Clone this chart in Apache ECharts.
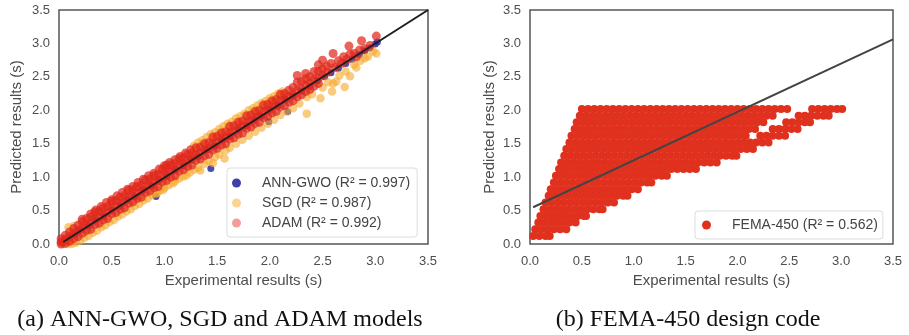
<!DOCTYPE html>
<html>
<head>
<meta charset="utf-8">
<script src="https://cdn.jsdelivr.net/npm/echarts@6/dist/echarts.min.js"></script>
<style>
  html, body { margin: 0; padding: 0; background: #fff; }
  #chart { width: 909px; height: 335px; }
</style>
</head>
<body>
<div id="chart"></div>
<script>
// tick labels shared by both panels
const axisTicks = ['0.0', '0.5', '1.0', '1.5', '2.0', '2.5', '3.0', '3.5'];

const seriesNames = ['ANN-GWO (R² = 0.997)', 'SGD (R² = 0.987)', 'ADAM (R² = 0.992)'];
const femaName = 'FEMA-450 (R² = 0.562)';
const captions = ['(a) ANN-GWO, SGD and ADAM models', '(b) FEMA-450 design code'];

// panel (a): experimental vs predicted
const gwoPoints = [
  [0.05,0.06],[0.1,0.11],[0.15,0.14],[0.2,0.21],[0.28,0.27],[0.35,0.36],[0.42,0.41],[0.5,0.51],
  [0.58,0.57],[0.65,0.66],[0.72,0.71],[0.8,0.81],[0.88,0.87],[0.92,0.71],[0.95,0.96],[1.02,1.01],
  [1.1,1.11],[1.18,1.17],[1.25,1.26],[1.32,1.31],[1.4,1.41],[1.44,1.13],[1.48,1.47],[1.55,1.56],
  [1.62,1.61],[1.7,1.71],[1.78,1.77],[1.85,1.86],[1.92,1.91],[1.99,1.83],[2.0,2.01],[2.08,2.07],
  [2.17,1.98],[2.15,2.16],[2.22,2.21],[2.3,2.29],[2.38,2.36],[2.45,2.44],[2.52,2.5],[2.58,2.56],
  [2.65,2.63],[2.72,2.7],[2.78,2.76],[2.85,2.83],[2.9,2.89],[2.95,2.93],[3.0,2.99],[3.02,3.02]
];
const sgdPoints = [
  [0.04,0.0],[0.08,0.0],[0.09,0.25],[0.12,0.0],[0.14,0.27],[0.16,0.02],[0.2,0.05],[0.24,0.09],
  [0.28,0.12],[0.32,0.17],[0.36,0.2],[0.4,0.25],[0.44,0.28],[0.48,0.33],[0.52,0.36],[0.56,0.41],
  [0.6,0.44],[0.64,0.49],[0.68,0.52],[0.72,0.57],[0.76,0.6],[0.8,0.65],[0.84,0.68],[0.88,0.73],
  [0.92,0.76],[0.93,0.76],[0.96,0.8],[0.99,0.81],[1.0,0.84],[1.04,0.88],[1.08,0.91],[1.1,0.94],
  [1.14,0.98],[1.18,1.01],[1.21,1.03],[1.24,1.07],[1.28,1.11],[1.32,1.14],[1.34,1.1],[1.38,1.2],
  [1.42,1.24],[1.46,1.21],[1.48,1.3],[1.52,1.34],[1.57,1.28],[1.58,1.4],[1.62,1.44],[1.68,1.5],
  [1.74,1.56],[1.8,1.62],[1.86,1.68],[1.92,1.74],[1.98,1.8],[2.04,1.86],[2.1,1.93],[2.16,1.98],
  [2.22,2.03],[2.28,2.1],[2.35,1.95],[2.35,2.2],[2.4,2.24],[2.48,2.18],[2.5,2.34],[2.55,2.42],
  [2.59,2.28],[2.6,2.4],[2.63,2.43],[2.66,2.52],[2.71,2.35],[2.72,2.58],[2.76,2.51],[2.8,2.68],
  [2.82,2.64],[2.86,2.74],[2.9,2.78],[2.93,2.8],[2.98,2.88],[3.01,2.85],
  [1.28,1.47],[1.32,1.52],[1.36,1.55],[1.4,1.6],[1.44,1.64],[1.48,1.67],[1.52,1.72],[1.56,1.76],
  [1.6,1.8],[1.64,1.83],[1.68,1.88],[1.72,1.91],[1.76,1.95],[1.8,2.0],[1.84,2.03],[1.88,2.07],
  [1.92,2.11],[1.96,2.14],[2.0,2.18],[2.04,2.21],[2.08,2.25],[2.12,2.28],
  [1.3,1.43],[1.38,1.51],[1.46,1.59],[1.54,1.67],[1.62,1.75],[1.7,1.83],[1.78,1.91],[1.86,1.99],
  [1.94,2.07],[2.02,2.15],[2.1,2.23]
];
const adamPoints = [
  [0.02,0.08],[0.02,0.03],[0.02,0.0],[0.06,0.13],[0.06,0.07],[0.06,0.01],[0.1,0.18],[0.1,0.11],
  [0.1,0.04],[0.14,0.23],[0.14,0.16],[0.14,0.08],[0.18,0.28],[0.18,0.2],[0.18,0.11],[0.22,0.37],
  [0.22,0.33],[0.22,0.24],[0.22,0.16],[0.26,0.38],[0.26,0.29],[0.26,0.2],[0.3,0.4],[0.3,0.31],
  [0.3,0.22],[0.34,0.48],[0.34,0.38],[0.34,0.29],[0.38,0.49],[0.38,0.4],[0.38,0.31],[0.42,0.54],
  [0.42,0.45],[0.42,0.36],[0.46,0.56],[0.46,0.47],[0.46,0.38],[0.5,0.64],[0.5,0.54],[0.5,0.45],
  [0.54,0.65],[0.54,0.56],[0.54,0.47],[0.58,0.7],[0.58,0.61],[0.58,0.52],[0.62,0.72],[0.62,0.63],
  [0.62,0.54],[0.66,0.8],[0.66,0.7],[0.66,0.61],[0.7,0.81],[0.7,0.72],[0.7,0.63],[0.74,0.86],
  [0.74,0.77],[0.74,0.68],[0.78,0.88],[0.78,0.79],[0.78,0.7],[0.82,0.96],[0.82,0.86],[0.82,0.77],
  [0.86,0.97],[0.86,0.88],[0.86,0.79],[0.9,1.02],[0.9,0.93],[0.9,0.84],[0.94,1.04],[0.94,0.95],
  [0.94,0.86],[0.98,1.12],[0.98,1.02],[0.98,0.93],[1.02,1.18],[1.02,1.13],[1.02,1.04],[1.02,0.95],
  [1.06,1.18],[1.06,1.09],[1.06,1.0],[1.1,1.2],[1.1,1.11],[1.1,1.02],[1.14,1.28],[1.14,1.18],
  [1.14,1.09],[1.18,1.29],[1.18,1.2],[1.18,1.11],[1.22,1.34],[1.22,1.25],[1.22,1.16],[1.26,1.36],
  [1.26,1.27],[1.26,1.18],[1.3,1.44],[1.3,1.34],[1.3,1.25],[1.34,1.45],[1.34,1.36],[1.34,1.27],
  [1.38,1.5],[1.38,1.41],[1.38,1.32],[1.42,1.52],[1.42,1.43],[1.42,1.34],[1.46,1.6],[1.46,1.5],
  [1.46,1.41],[1.5,1.61],[1.5,1.52],[1.5,1.43],[1.54,1.66],[1.54,1.57],[1.54,1.48],[1.58,1.68],
  [1.58,1.59],[1.58,1.5],[1.62,1.76],[1.62,1.66],[1.62,1.57],[1.66,1.77],[1.66,1.68],[1.66,1.59],
  [1.7,1.82],[1.7,1.73],[1.7,1.64],[1.74,1.84],[1.74,1.75],[1.74,1.66],[1.78,1.92],[1.78,1.82],
  [1.78,1.73],[1.82,1.93],[1.82,1.84],[1.82,1.75],[1.86,1.98],[1.86,1.89],[1.86,1.8],[1.9,2.0],
  [1.9,1.91],[1.9,1.82],[1.94,2.08],[1.94,1.98],[1.94,1.89],[1.98,2.09],[1.98,2.0],[1.98,1.91],
  [2.02,2.14],[2.02,2.05],[2.02,1.96],[2.06,2.16],[2.06,2.07],[2.06,1.98],[2.1,2.24],[2.1,2.14],
  [2.1,2.05],[2.14,2.25],[2.14,2.16],[2.14,2.07],[2.18,2.3],[2.18,2.21],[2.18,2.12],[2.22,2.34],
  [2.22,2.23],[2.22,2.14],[2.26,2.52],[2.26,2.42],[2.26,2.3],[2.26,2.2],[2.3,2.43],[2.3,2.32],
  [2.3,2.23],[2.34,2.55],[2.34,2.47],[2.34,2.37],[2.34,2.28],[2.38,2.5],[2.38,2.4],[2.38,2.31],
  [2.42,2.58],[2.42,2.46],[2.42,2.36],[2.46,2.68],[2.46,2.58],[2.46,2.48],[2.46,2.4],[2.5,2.75],
  [2.5,2.62],[2.5,2.53],[2.54,2.66],[2.55,2.57],[2.58,2.7],[2.6,2.85],[2.62,2.64],[2.65,2.74],
  [2.68,2.7],[2.7,2.8],[2.73,2.76],[2.75,2.96],[2.76,2.84],[2.8,2.85],[2.82,2.8],[2.85,2.9],
  [2.87,3.04],[2.9,2.92],[2.95,2.97],[3.01,3.11],
  [0.3,0.45],[0.35,0.51],[0.4,0.56],[0.45,0.62],[0.5,0.66],[0.55,0.72],[0.6,0.77],[0.65,0.82],
  [0.7,0.86],[0.75,0.92],[0.8,0.97],[0.85,1.02],[0.9,1.06],[0.95,1.12],[1.0,1.17],[1.05,1.22],
  [1.1,1.26],[1.15,1.31],[1.2,1.36],[1.25,1.41]
];
const idealLine = [[0.04, 0.03], [3.5, 3.5]];

// panel (b): FEMA-450 predictions come in rows of equal predicted period
const femaRowY = [2.02, 1.92, 1.82, 1.72, 1.62, 1.52, 1.42, 1.32, 1.22, 1.12,
                  1.02, 0.92, 0.82, 0.72, 0.62, 0.52, 0.42, 0.32, 0.22, 0.12];
const femaRowX = [
  [0.50,0.56,0.62,0.68,0.74,0.80,0.86,0.92,0.98,1.04,1.10,1.16,1.22,1.28,1.34,1.40,1.46,1.52,1.58,1.64,1.70,1.76,1.82,1.88,1.94,2.00,2.06,2.12,2.18,2.24,2.30,2.36,2.42,2.48,2.72,2.78,2.84,2.90,2.96,3.01],
  [0.48,0.54,0.60,0.66,0.72,0.78,0.84,0.90,0.96,1.02,1.08,1.14,1.20,1.26,1.32,1.38,1.44,1.50,1.56,1.62,1.68,1.74,1.80,1.86,1.92,1.98,2.04,2.10,2.16,2.22,2.28,2.34,2.59,2.65,2.71,2.77,2.83,2.88],
  [0.45,0.51,0.57,0.63,0.69,0.75,0.81,0.87,0.93,0.99,1.05,1.11,1.17,1.23,1.29,1.35,1.41,1.47,1.53,1.59,1.65,1.71,1.77,1.83,1.89,1.95,2.01,2.07,2.13,2.19,2.25,2.47,2.53,2.59,2.65,2.70],
  [0.43,0.49,0.55,0.61,0.67,0.73,0.79,0.85,0.91,0.97,1.03,1.09,1.15,1.21,1.27,1.33,1.39,1.45,1.51,1.57,1.63,1.69,1.75,1.81,1.87,1.93,1.99,2.05,2.11,2.17,2.34,2.40,2.46,2.52,2.58],
  [0.40,0.46,0.52,0.58,0.64,0.70,0.76,0.82,0.88,0.94,1.00,1.06,1.12,1.18,1.24,1.30,1.36,1.42,1.48,1.54,1.60,1.66,1.72,1.78,1.84,1.90,1.96,2.02,2.08,2.22,2.28,2.34,2.40,2.46],
  [0.38,0.44,0.50,0.56,0.62,0.68,0.74,0.80,0.86,0.92,0.98,1.04,1.10,1.16,1.22,1.28,1.34,1.40,1.46,1.52,1.58,1.64,1.70,1.76,1.82,1.88,1.94,2.00,2.06,2.12,2.18,2.24,2.30],
  [0.35,0.41,0.47,0.53,0.59,0.65,0.71,0.77,0.83,0.89,0.95,1.01,1.07,1.13,1.19,1.25,1.31,1.37,1.43,1.49,1.55,1.61,1.67,1.73,1.79,1.85,1.91,1.97,2.03,2.09,2.15],
  [0.33,0.39,0.45,0.51,0.57,0.63,0.69,0.75,0.81,0.87,0.93,0.99,1.05,1.11,1.17,1.23,1.29,1.35,1.41,1.47,1.53,1.59,1.65,1.71,1.77,1.83,1.89,1.95,1.99],
  [0.30,0.36,0.42,0.48,0.54,0.60,0.66,0.72,0.78,0.84,0.90,0.96,1.02,1.08,1.14,1.20,1.26,1.32,1.38,1.44,1.50,1.56,1.62,1.68,1.74,1.80],
  [0.28,0.34,0.40,0.46,0.52,0.58,0.64,0.70,0.76,0.82,0.88,0.94,1.00,1.06,1.12,1.18,1.24,1.30,1.36,1.42,1.48,1.54,1.60],
  [0.25,0.31,0.37,0.43,0.49,0.55,0.61,0.67,0.73,0.79,0.85,0.91,0.97,1.03,1.09,1.15,1.21,1.27,1.32],
  [0.23,0.29,0.35,0.41,0.47,0.53,0.59,0.65,0.71,0.77,0.83,0.89,0.95,1.01,1.07,1.13,1.17],
  [0.20,0.26,0.32,0.38,0.44,0.50,0.56,0.62,0.68,0.74,0.80,0.86,0.92,0.98,1.04],
  [0.18,0.24,0.30,0.36,0.42,0.48,0.54,0.60,0.66,0.72,0.78,0.84,0.90,0.94],
  [0.15,0.21,0.27,0.33,0.39,0.45,0.51,0.57,0.63,0.69,0.75,0.81],
  [0.13,0.19,0.25,0.31,0.37,0.43,0.49,0.55,0.61,0.67,0.70],
  [0.10,0.16,0.22,0.28,0.34,0.40,0.46,0.52,0.54],
  [0.08,0.14,0.20,0.26,0.32,0.38,0.44],
  [0.05,0.11,0.17,0.23,0.29,0.35],
  [0.03,0.09,0.15,0.19]
];
const femaFitLine = [[0.03, 0.55], [3.5, 3.06]];

const femaPoints = [];
femaRowY.forEach((y, i) => femaRowX[i].forEach(x => femaPoints.push([x, y])));

const sans = 'Liberation Sans, Arial, sans-serif';
const textColor = '#4d4d4d';

const chart = echarts.init(document.getElementById('chart'));

function xAxis(gi) {
  return {
    type: 'value', gridIndex: gi, min: 0, max: 3.5, interval: 0.5,
    name: 'Experimental results (s)', nameLocation: 'middle', nameGap: 28,
    nameTextStyle: { fontSize: 15, color: textColor, fontFamily: sans },
    axisLine: { show: false }, axisTick: { show: false }, splitLine: { show: false },
    axisLabel: { fontSize: 13, color: textColor, fontFamily: sans, margin: 11,
      formatter: (v, i) => axisTicks[i] }
  };
}
function yAxis(gi, gap) {
  return {
    type: 'value', gridIndex: gi, min: 0, max: 3.5, interval: 0.5,
    name: 'Predicted results (s)', nameLocation: 'middle', nameGap: gap,
    nameTextStyle: { fontSize: 15, color: textColor, fontFamily: sans },
    axisLine: { show: false }, axisTick: { show: false }, splitLine: { show: false },
    axisLabel: { fontSize: 13, color: textColor, fontFamily: sans, margin: 9,
      formatter: (v, i) => axisTicks[i] }
  };
}

const legendText = { fontSize: 14, color: '#444', fontFamily: sans, padding: [0, 0, 0, 16] };

const option = {
  animation: false,
  backgroundColor: '#fff',
  grid: [
    { left: 59, right: 481, top: 10, bottom: 91, show: true, borderColor: '#555', borderWidth: 1.5, outerBoundsMode: 'none' },
    { left: 530, right: 16, top: 10, bottom: 91, show: true, borderColor: '#555', borderWidth: 1.5, outerBoundsMode: 'none' }
  ],
  xAxis: [xAxis(0), xAxis(1)],
  yAxis: [yAxis(0, 35), yAxis(1, 33)],
  legend: [
    {
      orient: 'vertical', left: 227, top: 168, icon: 'circle',
      itemWidth: 9, itemHeight: 9, itemGap: 6,
      padding: [8, 7, 7, 5], backgroundColor: '#fff',
      borderColor: '#dcdcdc', borderWidth: 1, borderRadius: 3,
      textStyle: legendText,
      data: [
        { name: seriesNames[0], itemStyle: { opacity: 0.9 } },
        { name: seriesNames[1], itemStyle: { opacity: 0.5 } },
        { name: seriesNames[2], itemStyle: { opacity: 0.45 } }
      ]
    },
    {
      orient: 'vertical', left: 695, top: 211, icon: 'circle',
      itemWidth: 9, itemHeight: 9, itemGap: 6,
      padding: [7, 5, 7, 7], backgroundColor: '#fff',
      borderColor: '#dcdcdc', borderWidth: 1, borderRadius: 3,
      textStyle: legendText,
      data: [femaName]
    }
  ],
  graphic: [
    { type: 'text', x: 220, y: 320, style: { text: captions[0], align: 'center', verticalAlign: 'middle',
      fontSize: 24, fontFamily: 'Liberation Serif, Times New Roman, serif', fill: '#111' } },
    { type: 'text', x: 688, y: 320, style: { text: captions[1], align: 'center', verticalAlign: 'middle',
      fontSize: 24, fontFamily: 'Liberation Serif, Times New Roman, serif', fill: '#111' } }
  ],
  series: [
    { name: seriesNames[0], type: 'scatter', xAxisIndex: 0, yAxisIndex: 0, data: gwoPoints,
      symbolSize: 7, itemStyle: { color: '#2b2b9e', opacity: 0.85 }, z: 2 },
    { name: seriesNames[1], type: 'scatter', xAxisIndex: 0, yAxisIndex: 0, data: sgdPoints,
      symbolSize: 8.5, itemStyle: { color: '#f7a928', opacity: 0.6 }, z: 3 },
    { name: seriesNames[2], type: 'scatter', xAxisIndex: 0, yAxisIndex: 0, data: adamPoints,
      symbolSize: 9, itemStyle: { color: '#e0281c', opacity: 0.72 }, z: 4 },
    { type: 'line', xAxisIndex: 0, yAxisIndex: 0, data: idealLine, symbol: 'none',
      lineStyle: { color: '#1e1e1e', width: 2 }, z: 5, silent: true },
    { name: femaName, type: 'scatter', xAxisIndex: 1, yAxisIndex: 1, data: femaPoints,
      symbolSize: 8, itemStyle: { color: '#e0311f', opacity: 1 }, z: 2 },
    { type: 'line', xAxisIndex: 1, yAxisIndex: 1, data: femaFitLine, symbol: 'none',
      lineStyle: { color: '#444', width: 2 }, z: 5, silent: true }
  ]
};

chart.setOption(option);
</script>
</body>
</html>
